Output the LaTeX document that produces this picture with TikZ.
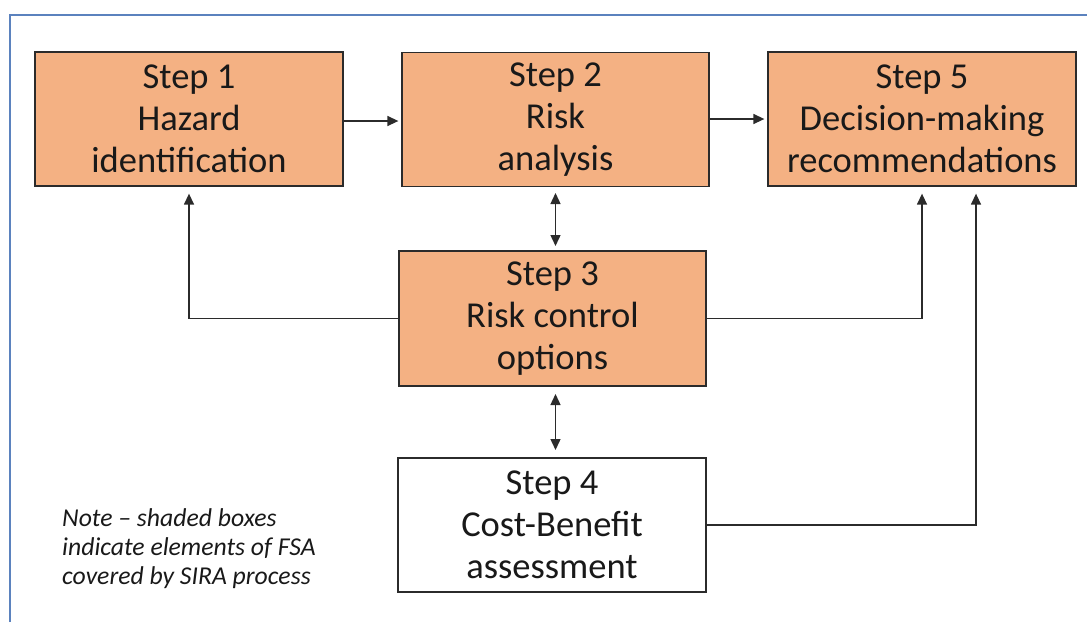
\documentclass[tikz,border=0pt]{standalone}
\usepackage{fontspec}
\setmainfont{Carlito}
\usetikzlibrary{arrows.meta,calc}
\definecolor{boxfill}{HTML}{F4B183}
\definecolor{boxline}{HTML}{2B2B2B}
\definecolor{framecol}{RGB}{91,130,190}
\tikzset{
  stepbox/.style={draw=boxline, line width=1.3pt, fill=boxfill, minimum width=308pt, minimum height=134pt, inner sep=0pt, align=center, font=\fontsize{36.5}{42}\selectfont, text=black!90},
  plainbox/.style={stepbox, fill=white},
  conn/.style={draw=boxline, line width=1.4pt, -{Triangle[length=11pt,width=10pt]}},
  dconn/.style={draw=boxline, line width=1.4pt, {Triangle[length=11pt,width=10pt]}-{Triangle[length=11pt,width=10pt]}},
  framel/.style={draw=framecol, line width=1.6pt},
  notetext/.style={align=left, inner sep=0pt, font=\fontsize{25.7}{29}\selectfont\itshape, text=black!90}
}
\begin{document}
\begin{tikzpicture}[x=1pt,y=-1pt]
\useasboundingbox (0,0) rectangle (1087,622);
\draw[framel] (10,622) -- (10,15) -- (1087,15);

\node[stepbox] (b1) at (189,119) {Step 1\\Hazard\\identification};
\node[stepbox, minimum width=307pt] (b2) at (555.5,119.5) {Step 2\\Risk\\analysis};
\node[stepbox] (b5) at (922,119) {Step 5\\Decision-making\\recommendations};
\node[stepbox, minimum width=307pt, minimum height=135pt] (b3) at (552.5,318.5) {Step 3\\Risk control\\options};
\node[plainbox] (b4) at (552,525) {Step 4\\Cost-Benefit\\assessment};

\node[notetext, anchor=base west] (note) at (62,584) {Note -- shaded boxes\\indicate elements of FSA\\covered by SIRA process};

\coordinate (c2a) at (555.5,186);
\coordinate (c2b) at (555.5,251);
\coordinate (c3a) at (555.5,386);
\coordinate (c3b) at (555.5,458);

\draw[conn, shorten >=3pt] (b1.east |- 0,121) -- (b2.west |- 0,121);
\draw[conn, shorten >=3pt] (b2.east |- 0,119) -- (b5.west |- 0,119);
\draw[dconn, shorten <=7pt, shorten >=5pt] (c2a) -- (c2b);
\draw[dconn, shorten <=8pt, shorten >=8pt] (c3a) -- (c3b);
\draw[conn, shorten >=7pt] (b3.west) -| (b1.south);
\draw[conn, shorten >=7pt] (b3.east) -| (b5.south);
\draw[conn, shorten >=7pt] (b4.east) -| (b5.south -| 976,0);
\end{tikzpicture}
\end{document}
